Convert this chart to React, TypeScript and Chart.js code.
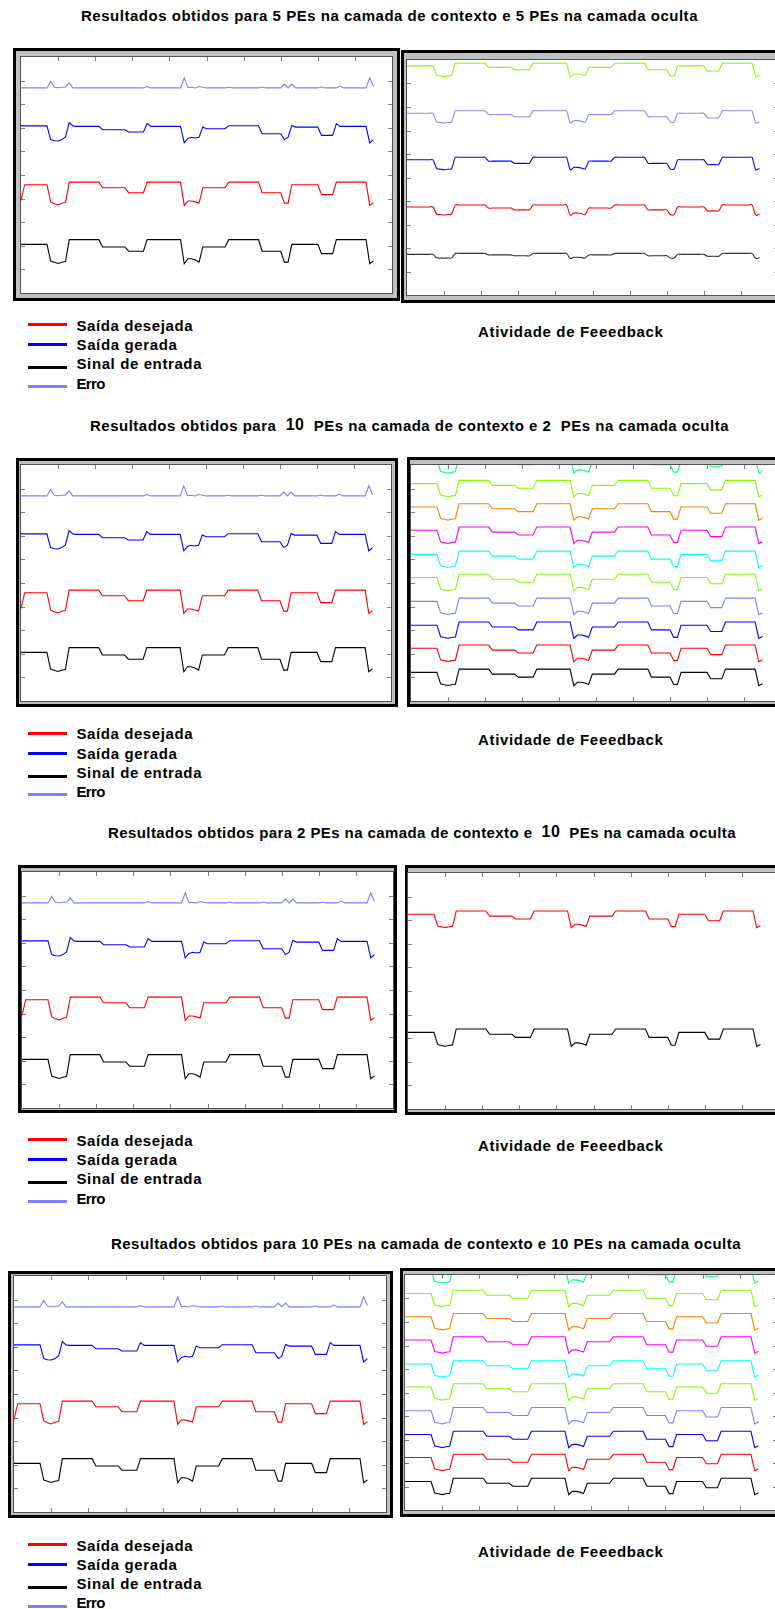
import React, { useEffect, useLayoutEffect, useRef } from "react";
import { Chart, registerables } from "chart.js";

Chart.register(...registerables);

// ---------- data (y in panel units 0..10, x in steps 0..95) ----------
const inputSignal = [
  2.06, 2.06, 2.06, 2.06, 2.06, 2.06, 2.06, 2.06,
  1.35, 1.30, 1.25, 1.30, 1.33,
  2.26, 2.26, 2.26, 2.26, 2.26, 2.26, 2.26, 2.26, 2.26,
  1.95, 1.95, 1.95, 1.95, 1.95, 1.95, 1.95,
  1.77, 1.77, 1.77, 1.77, 1.77,
  2.26, 2.26, 2.26, 2.26, 2.26, 2.26, 2.26, 2.26, 2.26, 2.26,
  1.24, 1.45, 1.45, 1.40, 1.31,
  1.95, 1.95, 1.95, 1.95, 1.95, 1.95, 1.95,
  2.26, 2.26, 2.26, 2.26, 2.26, 2.26, 2.26, 2.26, 2.26,
  1.77, 1.77, 1.77, 1.77, 1.77, 1.77,
  1.31, 1.31,
  2.06, 2.06, 2.06, 2.06, 2.06, 2.06, 2.06, 2.06,
  1.67, 1.67, 1.67, 1.67,
  2.26, 2.26, 2.26, 2.26, 2.26, 2.26, 2.26, 2.26, 2.26,
  1.24, 1.36,
];

const desiredOutput = [
  3.92, 4.59, 4.59, 4.59, 4.59, 4.59, 4.59, 4.59,
  3.86, 3.78, 3.73, 3.80, 3.83,
  4.70, 4.70, 4.70, 4.70, 4.70, 4.70, 4.70, 4.70, 4.70,
  4.46, 4.46, 4.46, 4.46, 4.46, 4.46, 4.46,
  4.25, 4.25, 4.25, 4.25, 4.25,
  4.70, 4.70, 4.70, 4.70, 4.70, 4.70, 4.70, 4.70, 4.70, 4.70,
  3.71, 3.90, 3.90, 3.86, 3.81,
  4.46, 4.46, 4.46, 4.46, 4.46, 4.46, 4.46,
  4.70, 4.70, 4.70, 4.70, 4.70, 4.70, 4.70, 4.70, 4.70,
  4.25, 4.25, 4.25, 4.25, 4.25, 4.25,
  3.81, 3.81,
  4.59, 4.59, 4.59, 4.59, 4.59, 4.59, 4.59, 4.59,
  4.17, 4.17, 4.17, 4.17,
  4.70, 4.70, 4.70, 4.70, 4.70, 4.70, 4.70, 4.70, 4.70,
  3.71, 3.83,
];

const generatedOutput = [
  7.08, 7.08, 7.08, 7.08, 7.08, 7.08, 7.08, 7.08,
  6.50, 6.45, 6.44, 6.50, 6.61,
  7.22, 7.08, 7.06, 7.06, 7.06, 7.06, 7.06, 7.06, 7.06,
  6.92, 6.92, 6.92, 6.92, 6.92, 6.92, 6.92,
  6.82, 6.82, 6.82, 6.82, 6.82,
  7.18, 7.06, 7.06, 7.06, 7.06, 7.06, 7.06, 7.06, 7.06, 7.06,
  6.36, 6.55, 6.60, 6.57, 6.60,
  7.03, 6.96, 6.96, 6.96, 6.96, 6.96, 6.96,
  7.09, 7.09, 7.09, 7.09, 7.09, 7.09, 7.09, 7.09, 7.09,
  6.75, 6.75, 6.75, 6.75, 6.75, 6.75,
  6.50, 6.60,
  7.10, 7.03, 7.03, 7.03, 7.03, 7.03, 7.03, 7.03,
  6.68, 6.68, 6.68, 6.68,
  7.18, 7.06, 7.06, 7.06, 7.06, 7.06, 7.06, 7.06, 7.06,
  6.36, 6.50,
];

const errorSignal = [
  8.69, 8.69, 8.69, 8.69, 8.69, 8.69, 8.69, 8.69,
  8.97, 8.72, 8.70, 8.72, 8.72,
  8.90,
  8.69, 8.69, 8.69, 8.69, 8.69, 8.69, 8.69, 8.69, 8.69, 8.69,
  8.69, 8.69, 8.69, 8.69, 8.69, 8.69, 8.69, 8.69, 8.69, 8.69,
  8.75,
  8.69, 8.69, 8.69, 8.69, 8.69, 8.69, 8.69, 8.69, 8.69,
  9.12, 8.70, 8.72, 8.69, 8.75, 8.72,
  8.69, 8.69, 8.69, 8.69, 8.69, 8.69,
  8.73,
  8.69, 8.69, 8.69, 8.69, 8.69, 8.69, 8.69, 8.69,
  8.73,
  8.69, 8.69, 8.69, 8.69, 8.69,
  8.85, 8.69, 8.85,
  8.69, 8.69, 8.69, 8.69, 8.69, 8.69, 8.69,
  8.73,
  8.69, 8.69, 8.69, 8.69,
  8.77,
  8.69, 8.69, 8.69, 8.69, 8.69, 8.69, 8.69,
  9.12, 8.75,
];

// feedback activity: top level and swing of each hidden/context unit trace
const feedback5Colors = ["#80ff00", "#8c8cff", "#0000ff", "#ff0000", "#303030"];
const feedback5High = [9.86, 7.84, 5.86, 3.83, 1.77];
const feedback5Swing = [0.57, 0.53, 0.54, 0.43, 0.21];
const feedback5Tension = [0.15, 0.15, 0.2, 0.4, 0.4];

const feedback10Colors = ["#00ff80", "#80ff00", "#ff8000", "#ff00ff", "#00ffff", "#80ff00", "#8080ff", "#0000ff", "#ff0000", "#000000"];
const feedback10High = [10.35, 9.35, 8.36, 7.37, 6.35, 5.37, 4.36, 3.35, 2.37, 1.35];
const feedback10Swing = [0.7, 0.7, 0.7, 0.7, 0.7, 0.7, 0.7, 0.7, 0.7, 0.7];

const feedback2Colors = ["#ff0000", "#000000"];
const feedback2High = [8.39, 3.39];
const feedback2Swing = [0.71, 0.74];

const xTickValues = [10, 20, 30, 40, 50, 60, 70, 80, 90];
const yTickValues = [1, 2, 3, 4, 5, 6, 7, 8, 9];

const legendLabels = ["Saída desejada", "Saída gerada", "Sinal de entrada", "Erro"];
const legendColors = ["#ff0000", "#0000ff", "#000000", "#8080ff"];
const legendTextWidths = [116.6, 101, 125.6, 28.3];

const titleTexts = [
  [{ t: "Resultados obtidos para 5 PEs na camada de contexto e 5 PEs na camada oculta" }],
  [{ t: "Resultados obtidos para  " }, { t: "10", big: true }, { t: "  PEs na camada de contexto e 2  PEs na camada oculta" }],
  [{ t: "Resultados obtidos para 2 PEs na camada de contexto e  " }, { t: "10", big: true }, { t: "  PEs na camada oculta" }],
  [{ t: "Resultados obtidos para 10 PEs na camada de contexto e 10 PEs na camada oculta" }],
];
const captionText = "Atividade de Feeedback";

// ---------- derived tables ----------
const timeSteps = inputSignal.map((_, i) => i);
const inLow = Math.min(...inputSignal);
const inHigh = Math.max(...inputSignal);
const feedbackShape = inputSignal.map((v) => (v - inLow) / (inHigh - inLow));
const feedbackTrace = (high: number, swing: number) => feedbackShape.map((n) => high - swing * (1 - n));

const leftSeries = [
  { values: errorSignal, color: "#8080ff" },
  { values: generatedOutput, color: "#0000ff" },
  { values: desiredOutput, color: "#ff0000" },
  { values: inputSignal, color: "#000000" },
];
const right5 = feedback5Colors.map((c, i) => ({ values: feedbackTrace(feedback5High[i], feedback5Swing[i]), color: c, tension: feedback5Tension[i] }));
const right10 = feedback10Colors.map((c, i) => ({ values: feedbackTrace(feedback10High[i], feedback10Swing[i]), color: c }));
const right2 = feedback2Colors.map((c, i) => ({ values: feedbackTrace(feedback2High[i], feedback2Swing[i]), color: c }));

const FONT = 'Arial, "Liberation Sans", Helvetica, sans-serif';
const TEXT_SIZE = 15;

type Rect = { x: number; y: number; w: number; h: number };
type Edges = { top?: boolean; bottom?: boolean; left?: boolean; right?: boolean };

const sections = [
  {
    title: { x: 81, w: 617, cy: 15.8 },
    left: { outer: { x: 13, y: 48, w: 387, h: 253 }, plot: { x: 21, y: 57, w: 371, h: 236 }, edges: { top: true, left: true, right: true } },
    right: { outer: { x: 401, y: 50, w: 400, h: 253 }, plot: { x: 407, y: 60, w: 371, h: 235 }, edges: { bottom: true, left: true, right: true }, series: right5 },
    legendY: 325.3, captionY: 331.3,
  },
  {
    title: { x: 90, w: 639, cy: 425.3 },
    left: { outer: { x: 16, y: 458, w: 382, h: 249 }, plot: { x: 21, y: 465, w: 370, h: 236 }, edges: { top: true, left: true, right: true } },
    right: { outer: { x: 407, y: 457, w: 400, h: 250 }, plot: { x: 411, y: 465, w: 370, h: 236 }, edges: { top: true, bottom: true, left: true, right: true }, series: right10 },
    legendY: 733.8, captionY: 739,
  },
  {
    title: { x: 108, w: 628, cy: 832.5 },
    left: { outer: { x: 18, y: 865, w: 379, h: 248 }, plot: { x: 22, y: 872, w: 371, h: 236 }, edges: { top: true, bottom: true, left: true, right: true } },
    right: { outer: { x: 405, y: 865, w: 400, h: 250 }, plot: { x: 408, y: 873, w: 371, h: 236 }, edges: { top: true, bottom: true, left: true, right: true }, series: right2 },
    legendY: 1140.3, captionY: 1145.5,
  },
  {
    title: { x: 111, w: 630, cy: 1243.2 },
    left: { outer: { x: 8, y: 1271, w: 385, h: 247 }, plot: { x: 14, y: 1276, w: 372, h: 236 }, edges: { top: true, bottom: true, left: true, right: true } },
    right: { outer: { x: 400, y: 1268, w: 400, h: 249 }, plot: { x: 405, y: 1275, w: 372, h: 235 }, edges: { top: true, bottom: true, left: true, right: true }, series: right10 },
    legendY: 1545, captionY: 1551,
  },
];

const legendRowOffsets = [0, 19.3, 38.3, 57.7];
const legendLineOffsets = [-0.7, 19.3, 42.5, 61];

function edgeTicks(edges: Edges) {
  return {
    id: "edgeTicks",
    beforeDatasetsDraw(chart: any) {
      const { ctx, chartArea, scales } = chart;
      const { left, right, top, bottom } = chartArea;
      const L = 4;
      ctx.save();
      ctx.strokeStyle = "#808080";
      ctx.lineWidth = 1;
      ctx.beginPath();
      for (const v of xTickValues) {
        const px = Math.round(scales.x.getPixelForValue(v)) + 0.5;
        if (edges.top) { ctx.moveTo(px, top); ctx.lineTo(px, top + L); }
        if (edges.bottom) { ctx.moveTo(px, bottom); ctx.lineTo(px, bottom - L); }
      }
      for (const v of yTickValues) {
        const py = Math.round(scales.y.getPixelForValue(v)) + 0.5;
        if (edges.left) { ctx.moveTo(left, py); ctx.lineTo(left + L, py); }
        if (edges.right) { ctx.moveTo(right, py); ctx.lineTo(right - L, py); }
      }
      ctx.stroke();
      ctx.restore();
    },
  };
}

function PlotPanel({ outer, plot, series, edges }: { outer: Rect; plot: Rect; series: any[]; edges: Edges }) {
  const ref = useRef<HTMLCanvasElement>(null);
  useEffect(() => {
    const chart = new Chart(ref.current as HTMLCanvasElement, {
      type: "line",
      data: {
        datasets: series.map((s) => ({
          data: s.values.map((y: number, i: number) => ({ x: timeSteps[i], y })),
          borderColor: s.color,
          borderWidth: 1.1,
          pointRadius: 0,
          tension: s.tension || 0,
          fill: false,
        })),
      },
      options: {
        animation: false,
        responsive: false,
        maintainAspectRatio: false,
        events: [],
        layout: { padding: 0 },
        plugins: { legend: { display: false }, tooltip: { enabled: false } },
        scales: {
          x: { type: "linear", min: 0, max: 100, display: false },
          y: { type: "linear", min: 0, max: 10, display: false },
        },
      } as any,
      plugins: [edgeTicks(edges)],
    });
    return () => chart.destroy();
  }, []);
  return (
    <>
      <div style={{ position: "absolute", left: outer.x, top: outer.y, width: outer.w, height: outer.h, background: "#000" }}>
        <div style={{ position: "absolute", left: 3, top: 3, right: 3, bottom: 3, background: "#c0c0c0" }} />
      </div>
      <div style={{ position: "absolute", left: plot.x - 1, top: plot.y - 1, width: plot.w + 2, height: plot.h + 2, background: "#505050" }} />
      <canvas
        ref={ref}
        width={plot.w}
        height={plot.h}
        style={{ position: "absolute", left: plot.x, top: plot.y, width: plot.w, height: plot.h, background: "#fff" }}
      />
    </>
  );
}

function FitText({ parts, x, cy, width, size = TEXT_SIZE }: { parts: { t: string; big?: boolean }[]; x: number; cy: number; width: number; size?: number }) {
  const ref = useRef<HTMLDivElement>(null);
  useLayoutEffect(() => {
    const el = ref.current;
    if (!el) return;
    el.style.letterSpacing = "0px";
    const w = el.getBoundingClientRect().width;
    const n = (el.textContent || "").length;
    el.style.letterSpacing = `${(width - w) / n}px`;
  }, []);
  return (
    <div
      ref={ref}
      style={{
        position: "absolute",
        left: x,
        top: cy - size * 0.688,
        whiteSpace: "pre",
        width: "max-content",
        font: `bold ${size}px ${FONT}`,
        lineHeight: `${size * 1.4}px`,
        color: "#000",
      }}
    >
      {parts.map((p, i) =>
        p.big ? (
          <span key={i} style={{ fontSize: size + 1, lineHeight: "0px", position: "relative", top: -1 }}>{p.t}</span>
        ) : (
          <span key={i}>{p.t}</span>
        )
      )}
    </div>
  );
}

export default function App() {
  return (
    <div style={{ position: "absolute", left: 0, top: 0, width: 775, height: 1609, overflow: "hidden", background: "#fff" }}>
      {sections.map((s, si) => (
        <React.Fragment key={si}>
          <FitText parts={titleTexts[si]} x={s.title.x} cy={s.title.cy} width={s.title.w} />
          <PlotPanel outer={s.left.outer} plot={s.left.plot} series={leftSeries} edges={s.left.edges} />
          <PlotPanel outer={s.right.outer} plot={s.right.plot} series={s.right.series} edges={s.right.edges} />
          {legendLabels.map((lab, li) => (
            <React.Fragment key={li}>
              <div
                style={{
                  position: "absolute",
                  left: 28,
                  top: Math.round(s.legendY + legendLineOffsets[li] - 1.5),
                  width: 39,
                  height: 3,
                  background: legendColors[li],
                }}
              />
              <FitText parts={[{ t: lab }]} x={76.5} cy={s.legendY + legendRowOffsets[li]} width={legendTextWidths[li]} />
            </React.Fragment>
          ))}
          <FitText parts={[{ t: captionText }]} x={478} cy={s.captionY} width={185.6} />
        </React.Fragment>
      ))}
    </div>
  );
}
